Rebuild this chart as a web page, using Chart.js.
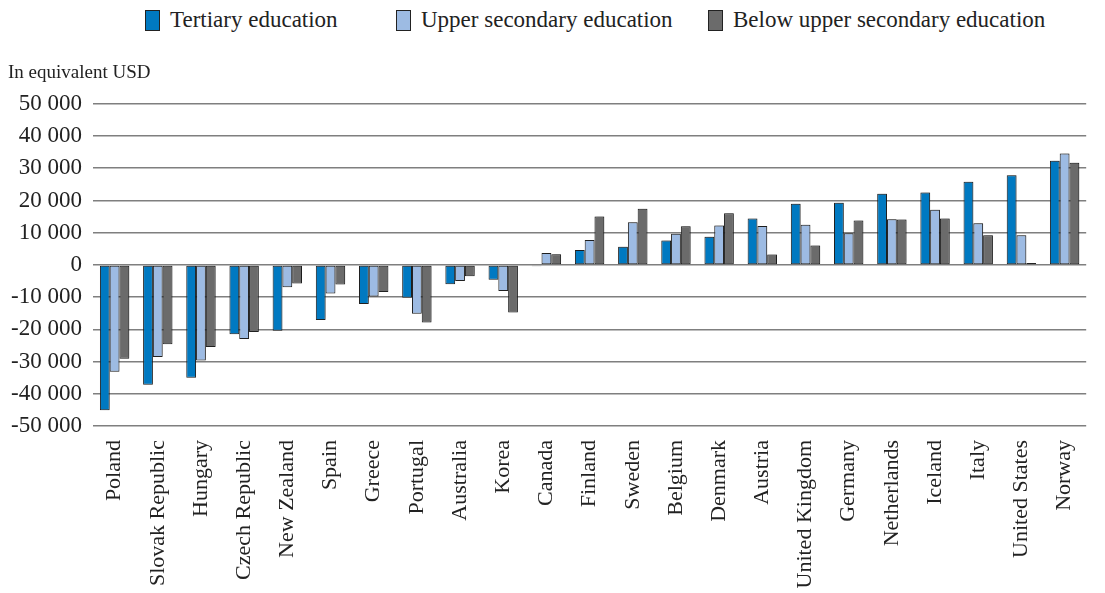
<!DOCTYPE html>
<html>
<head>
<meta charset="utf-8">
<script src="https://cdn.jsdelivr.net/npm/chart.js@4.4.1/dist/chart.umd.min.js"></script>
<style>
    html, body { margin: 0; padding: 0; background: #fff; }
    #legend {
        display: flex;
        align-items: center;
        height: 40px;
        padding-left: 145px;
        font-family: 'Liberation Serif', 'DejaVu Serif', serif;
        font-size: 23px;
        color: #222;
        white-space: nowrap;
    }
    .legend-item { display: flex; align-items: center; flex: none; }
    .legend-swatch {
        width: 13px;
        height: 19px;
        border: 1px solid #222;
        margin-right: 10px;
    }
    #wrap { position: relative; width: 1105px; height: 553px; }
</style>
</head>
<body>
<div id="legend"></div>
<div id="wrap"><canvas id="earningsChart"></canvas></div>
<script>
// ============================================
// Net returns by education level, per country
// ============================================

const countries = [
    'Poland', 'Slovak Republic', 'Hungary', 'Czech Republic', 'New Zealand',
    'Spain', 'Greece', 'Portugal', 'Australia', 'Korea', 'Canada', 'Finland',
    'Sweden', 'Belgium', 'Denmark', 'Austria', 'United Kingdom', 'Germany',
    'Netherlands', 'Iceland', 'Italy', 'United States', 'Norway'
];

const tertiary = [
    -45100, -37200, -35000, -21500, -20400, -17100, -12100, -10200, -6000, -4600,
    -400, 4600, 5600, 7600, 8700, 14400, 19000, 19300, 22100, 22500, 25800, 27800, 32300
];

const upperSecondary = [
    -33200, -28600, -29700, -23000, -6900, -8900, -9800, -15200, -5000, -8100,
    3700, 7700, 13200, 9700, 12200, 12100, 12500, 9800, 14200, 17100, 12900, 9200, 34600
];

const belowUpperSecondary = [
    -29100, -24600, -25500, -20800, -5800, -6100, -8400, -17900, -3500, -14800,
    3300, 15000, 17400, 12000, 16000, 3200, 6000, 13800, 14100, 14400, 9200, 600, 31700
];

const yTicks = [-50000, -40000, -30000, -20000, -10000, 0, 10000, 20000, 30000, 40000, 50000];

const SERIF = "'Liberation Serif', 'DejaVu Serif', serif";

function fmt(v) {
    const s = Math.abs(v).toString().replace(/\B(?=(\d{3})+(?!\d))/g, ' ');
    return (v < 0 ? '-' : '') + s;
}

const series = [
    { label: 'Tertiary education', data: tertiary, color: '#0079c1' },
    { label: 'Upper secondary education', data: upperSecondary, color: '#9dbbe3' },
    { label: 'Below upper secondary education', data: belowUpperSecondary, color: '#6b6b6b' }
];

// legend sits above the canvas; fixed slot widths keep the swatches evenly placed
const legendSlots = [251, 312, null];
const legendEl = document.getElementById('legend');
series.forEach((s, i) => {
    const item = document.createElement('div');
    item.className = 'legend-item';
    if (legendSlots[i]) item.style.width = legendSlots[i] + 'px';
    const sw = document.createElement('span');
    sw.className = 'legend-swatch';
    sw.style.background = s.color;
    const txt = document.createElement('span');
    txt.textContent = s.label;
    item.appendChild(sw);
    item.appendChild(txt);
    legendEl.appendChild(item);
});

// soft halo behind the bars
const barShadow = {
    id: 'barShadow',
    beforeDatasetsDraw(chart) {
        const ctx = chart.ctx;
        ctx.save();
        ctx.shadowColor = 'rgba(0, 0, 0, 0.3)';
        ctx.shadowBlur = 3;
        ctx.shadowOffsetX = 1;
        ctx.shadowOffsetY = -1;
    },
    afterDatasetsDraw(chart) {
        chart.ctx.restore();
    }
};

const ctx = document.getElementById('earningsChart').getContext('2d');

new Chart(ctx, {
    type: 'bar',
    data: {
        labels: countries,
        datasets: series.map(s => ({
            label: s.label,
            data: s.data,
            backgroundColor: s.color,
            borderColor: '#222',
            borderWidth: 1,
            borderSkipped: false,
            barPercentage: 1,
            categoryPercentage: 0.68
        }))
    },
    options: {
        responsive: true,
        maintainAspectRatio: false,
        animation: false,
        layout: { padding: { left: 8, right: 0, top: 0, bottom: 0 } },
        plugins: {
            legend: { display: false },
            tooltip: { enabled: false },
            title: {
                display: true,
                text: 'In equivalent USD',
                align: 'start',
                color: '#222',
                font: { family: SERIF, size: 19, weight: 'normal' },
                padding: { top: 22, bottom: 19 }
            }
        },
        scales: {
            x: {
                grid: { display: false, drawTicks: false },
                border: { display: false },
                ticks: {
                    autoSkip: false,
                    maxRotation: 90,
                    minRotation: 90,
                    padding: 14,
                    color: '#222',
                    font: { family: SERIF, size: 22 }
                },
                afterFit(scale) { scale.height = 167; }
            },
            y: {
                min: yTicks[0],
                max: yTicks[yTicks.length - 1],
                afterBuildTicks(scale) {
                    scale.ticks = yTicks.map(v => ({ value: v }));
                },
                grid: { color: '#7f7f7f', lineWidth: 1.5, drawTicks: false },
                border: { display: false },
                ticks: {
                    padding: 11,
                    color: '#222',
                    font: { family: SERIF, size: 23 },
                    callback: function(value) { return fmt(value); }
                },
                afterFit(scale) { scale.width = 85; }
            }
        }
    },
    plugins: [barShadow]
});
</script>
</body>
</html>
